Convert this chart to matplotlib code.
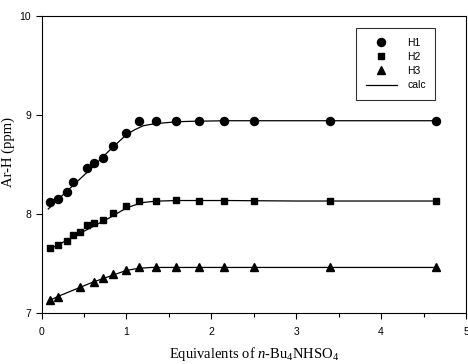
import numpy as np
import matplotlib.pyplot as plt
from matplotlib.ticker import MultipleLocator

# Data
x_h1 = [0.1, 0.2, 0.3, 0.375, 0.53, 0.62, 0.73, 0.845, 0.99, 1.15, 1.35, 1.59, 1.85, 2.15, 2.5, 3.4, 4.65]
y_h1 = [8.12, 8.15, 8.22, 8.32, 8.46, 8.51, 8.56, 8.69, 8.82, 8.94, 8.94, 8.935, 8.935, 8.94, 8.94, 8.94, 8.94]

x_h2 = [0.1, 0.2, 0.3, 0.375, 0.45, 0.54, 0.62, 0.72, 0.845, 0.99, 1.15, 1.35, 1.58, 1.85, 2.15, 2.5, 3.4, 4.65]
y_h2 = [7.66, 7.69, 7.73, 7.79, 7.82, 7.89, 7.91, 7.94, 8.01, 8.08, 8.13, 8.13, 8.14, 8.135, 8.135, 8.13, 8.13, 8.13]

x_h3 = [0.1, 0.2, 0.45, 0.62, 0.73, 0.845, 0.99, 1.15, 1.35, 1.58, 1.85, 2.15, 2.5, 3.4, 4.65]
y_h3 = [7.13, 7.16, 7.26, 7.31, 7.35, 7.39, 7.43, 7.46, 7.46, 7.46, 7.46, 7.46, 7.46, 7.46, 7.46]

# fitted (calc) curves
x_calc = [0.08, 0.2, 0.4, 0.6, 0.8, 0.9, 1.0, 1.1, 1.2, 1.3, 1.4, 1.6, 1.8, 2.2, 3.0, 4.65]
c_h1 = [8.05, 8.15, 8.31, 8.47, 8.64, 8.72, 8.80, 8.85, 8.89, 8.905, 8.915, 8.93, 8.935, 8.94, 8.94, 8.94]
c_h2 = [7.64, 7.69, 7.78, 7.87, 7.96, 8.01, 8.06, 8.09, 8.115, 8.125, 8.13, 8.135, 8.135, 8.135, 8.13, 8.13]
c_h3 = [7.12, 7.17, 7.24, 7.31, 7.37, 7.40, 7.43, 7.445, 7.455, 7.46, 7.46, 7.46, 7.46, 7.46, 7.46, 7.46]

plt.rcParams['font.family'] = 'Liberation Sans'
plt.rcParams['mathtext.fontset'] = 'custom'
plt.rcParams['mathtext.rm'] = 'Liberation Serif'
plt.rcParams['mathtext.it'] = 'Liberation Serif:italic'

fig = plt.figure(figsize=(4.68, 3.64), dpi=100)
ax = fig.add_axes([0.0887, 0.14, 0.907, 0.817])

ax.plot(x_calc, c_h1, color='black', lw=0.9)
ax.plot(x_calc, c_h2, color='black', lw=0.9)
ax.plot(x_calc, c_h3, color='black', lw=0.9)

ax.plot(x_h1, y_h1, 'o', color='black', ms=5.8, label='H1')
ax.plot(x_h2, y_h2, 's', color='black', ms=5.0, label='H2')
ax.plot(x_h3, y_h3, '^', color='black', ms=5.8, label='H3')
ax.plot([], [], color='black', lw=0.9, label='calc')

ax.set_xlim(0, 5)
ax.set_ylim(7, 10)
ax.xaxis.set_major_locator(MultipleLocator(1))
ax.xaxis.set_minor_locator(MultipleLocator(0.5))
ax.yaxis.set_major_locator(MultipleLocator(1))
ax.tick_params(which='both', direction='out', labelsize=7.5, width=0.8)
ax.tick_params(which='major', length=4)
ax.tick_params(which='minor', length=3)
ax.tick_params(axis='x', pad=6)
for s in ax.spines.values():
    s.set_linewidth(0.8)

ax.set_xlabel(r'Equivalents of $n$-Bu$_4$NHSO$_4$', family='Liberation Serif', fontsize=10.5, labelpad=6)
ax.set_ylabel('Ar-H (ppm)', family='Liberation Serif', fontsize=10.5)
ax.yaxis.set_label_coords(-0.063, 0.54)

leg = ax.legend(loc='upper right', bbox_to_anchor=(0.94, 0.975), numpoints=1, fontsize=7.5,
                fancybox=False, edgecolor='black', handlelength=3.0, borderpad=0.9,
                labelspacing=0.4, handletextpad=1.0)
leg.get_frame().set_linewidth(0.8)

plt.savefig('out.png', dpi=100)
